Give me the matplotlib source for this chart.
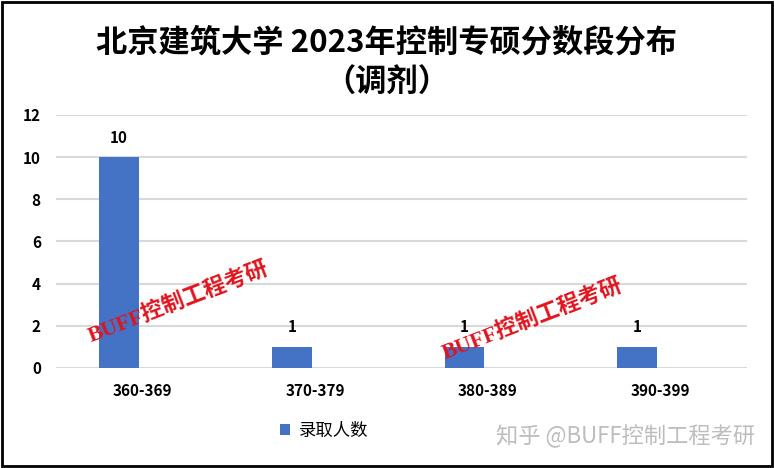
import matplotlib
matplotlib.use('Agg')
import matplotlib.pyplot as plt
import numpy as np
from matplotlib.patches import Rectangle

plt.rcParams['font.family'] = ['Noto Sans CJK SC', 'DejaVu Sans']

categories = ['360-369', '370-379', '380-389', '390-399']
counts = [10, 1, 1, 1]
series_name = '录取人数'
title = '北京建筑大学 2023年控制专硕分数段分布\n（调剂）'
watermark = 'BUFF控制工程考研'
footer = '知乎 @BUFF控制工程考研'

fig = plt.figure(figsize=(7.74, 4.68), dpi=100)
ax = fig.add_axes([0.0724, 0.2137, 0.8926, 0.5406])

x = np.arange(len(categories))
bars = ax.bar(x - 0.135, counts, width=0.23, color='#4472c4', label=series_name, zorder=3)

for b, v in zip(bars, counts):
    ax.annotate(str(v), (b.get_x() + b.get_width() / 2, v), xytext=(0, 14),
                textcoords='offset points', ha='center', va='center',
                fontsize=11, fontweight='bold')

ax.set_xlim(-0.5, 3.5)
ax.set_ylim(0, 12)
ax.set_yticks(range(0, 13, 2))
ax.set_xticks(x)
ax.set_xticklabels(categories, fontsize=11, fontweight='bold')
for lab in ax.get_yticklabels():
    lab.set_fontsize(11)
    lab.set_fontweight('bold')
ax.tick_params(axis='both', length=0)
ax.tick_params(axis='y', pad=11)
ax.tick_params(axis='x', pad=11)
ax.grid(axis='y', color='#d9d9d9', linewidth=1.5, zorder=0)
for s in ax.spines.values():
    s.set_visible(False)

fig.text(0.5, 0.866, title, ha='center', va='center', fontsize=22.5,
         fontweight='bold', linespacing=1.36)

leg = fig.legend(loc='center', bbox_to_anchor=(0.419, 0.079), frameon=False,
                 fontsize=12.5, handlelength=0.6, handleheight=0.6, handletextpad=0.5)

# red watermarks
for cx, cy in [(0.231, 0.355), (0.688, 0.318)]:
    fig.text(cx, cy, watermark, rotation=21, ha='center', va='center',
             fontsize=16, fontweight='bold', color='#e0141e',
             family=['Liberation Serif', 'Noto Sans CJK SC'], zorder=10)

fig.text(0.975, 0.067, footer, ha='right', va='center', fontsize=16,
         color='#bdbdbd', zorder=10)

# outer frame
fig.patches.append(Rectangle((0.003, 0.005), 0.994, 0.99, transform=fig.transFigure,
                             fill=False, edgecolor='black', linewidth=2))

fig.savefig('out.png', dpi=100)
